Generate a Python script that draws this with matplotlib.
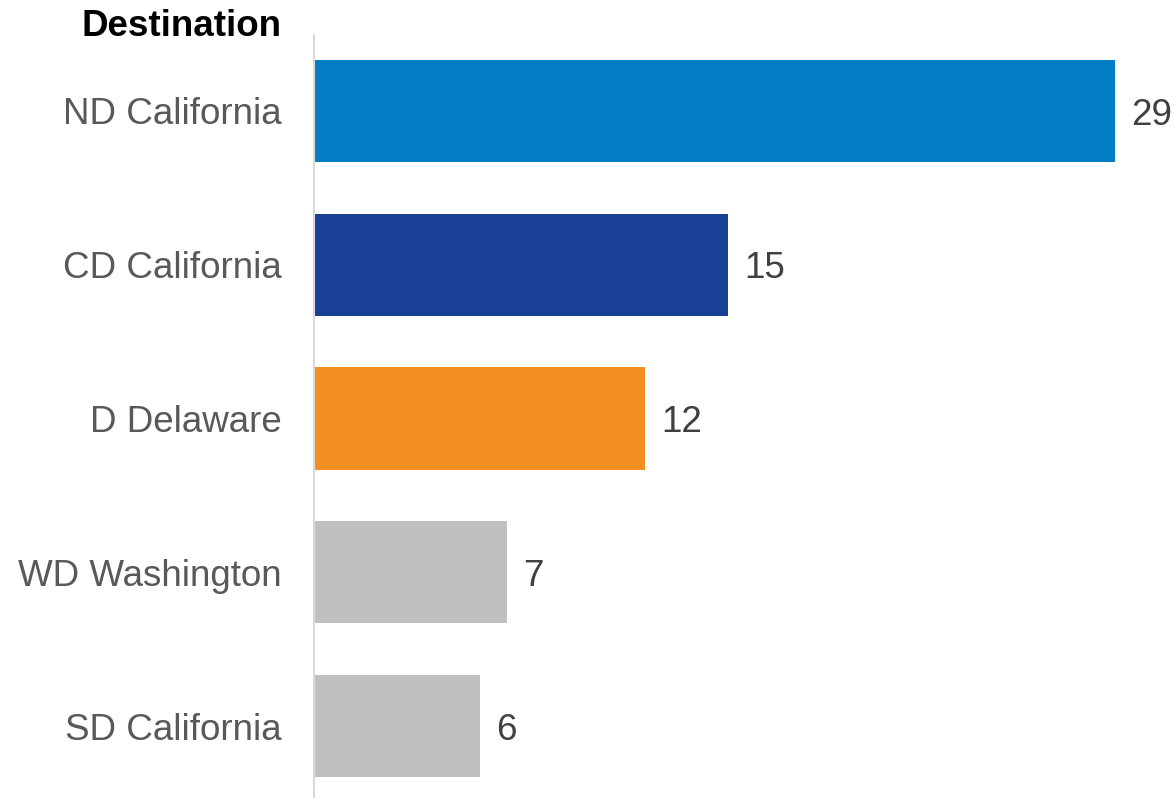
import matplotlib.pyplot as plt

plt.rcParams['font.family'] = ['Liberation Sans', 'DejaVu Sans']

categories = ['ND California', 'CD California', 'D Delaware', 'WD Washington', 'SD California']
values = [29, 15, 12, 7, 6]
colors = ['#037EC4', '#1A4096', '#F38F20', '#BFBFBF', '#BFBFBF']

fig = plt.figure(figsize=(11.74, 7.98), dpi=100)
ax = fig.add_axes([314 / 1174, 0, 1 - 314 / 1174, 1 - 35 / 798])

y = list(range(len(categories)))
ax.barh(y, values, height=0.665, color=colors)

ax.set_xlim(0, 860 / 27.62)
ax.set_ylim(4.468, -0.494)

# value labels just right of each bar
for yi, v in zip(y, values):
    ax.annotate(str(v), xy=(v, yi), xytext=(11.5, -3), textcoords='offset points',
                ha='left', va='center', fontsize=26.5, color='#404040')

ax.set_yticks(y)
ax.set_yticklabels(categories, fontsize=26.5, color='#595959')
ax.tick_params(axis='y', length=0, pad=23)
ax.set_xticks([])

for s in ['top', 'right', 'bottom']:
    ax.spines[s].set_visible(False)
ax.spines['left'].set_color('#D9D9D9')
ax.spines['left'].set_linewidth(1.5)

fig.text(282 / 1174, 1 - 26 / 798, 'Destination', ha='right', va='center',
         fontsize=26.5, fontweight='bold', color='black')

fig.savefig('out.png', dpi=100)
